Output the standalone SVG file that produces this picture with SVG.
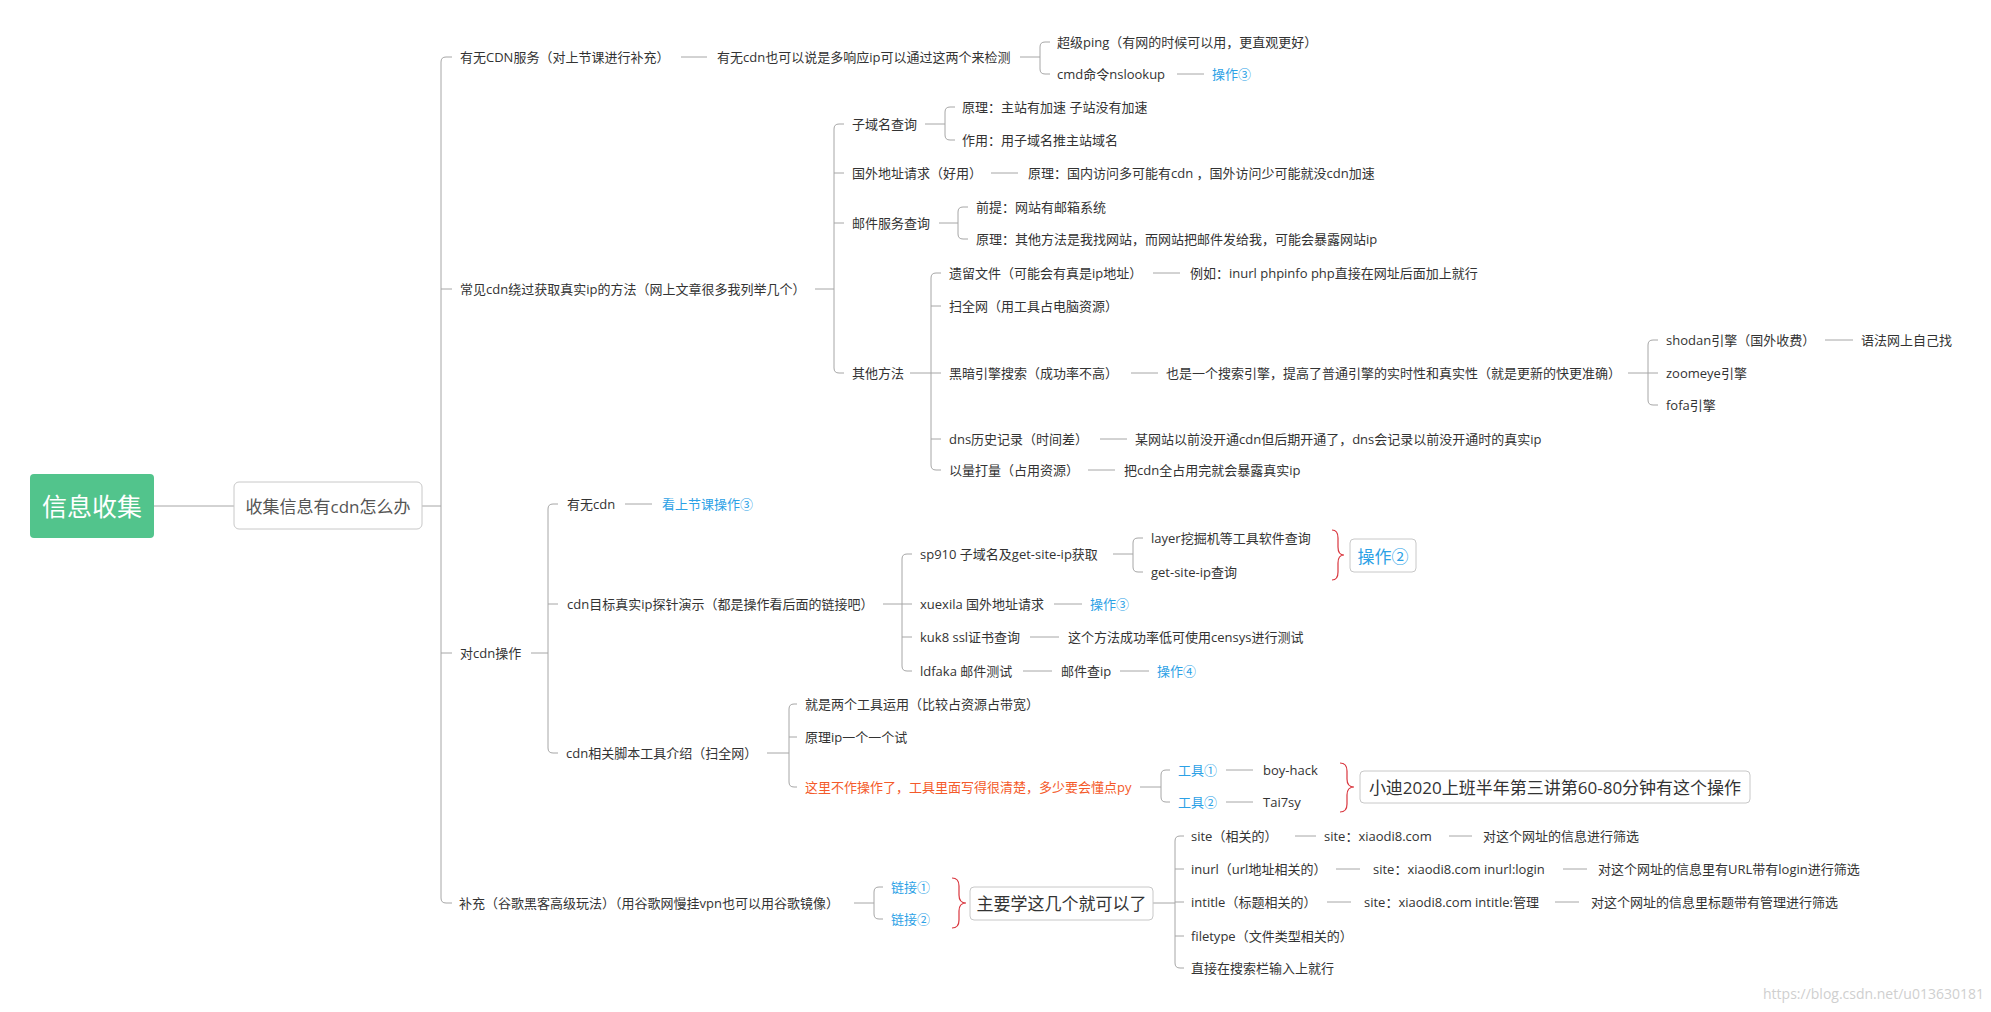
<svg xmlns="http://www.w3.org/2000/svg" width="1991" height="1012" viewBox="0 0 1991 1012">
<style>
text{font-family:"Open Sans","Noto Sans CJK SC",sans-serif;dominant-baseline:central}
.t{font-size:13px;fill:#333}
.b{font-size:13px;fill:#2ca1e6}
.o{font-size:13px;fill:#f45a2a}
.c{text-anchor:middle}
.ln{fill:none;stroke:#a6a6a6;stroke-width:1}
.br{fill:none;stroke:#d9363e;stroke-width:1.2}
.bx{fill:#fff;stroke:#c8c8c8;stroke-width:1}
</style>
<rect width="1991" height="1012" fill="#fff"/>
<g id="connectors">
<path class="ln" d="M154,506 H234"/>
<path class="ln" stroke-width="2" d="M422,506 H441"/>
<path class="ln" d="M452,57 H446 Q441,57 441,62 V898 Q441,903 446,903 H452 M441,289 H452 M441,653 H452"/>
<path class="ln" d="M681,57 H707 M1020,57 H1040 M1050,42 H1045 Q1040,42 1040,47 V69 Q1040,74 1045,74 H1050 M1177,74 H1204"/>
<path class="ln" d="M815,289 H834 M844,124 H839 Q834,124 834,129 V368 Q834,373 839,373 H844 M834,173 H844 M834,223 H844"/>
<path class="ln" d="M925,124 H945 M955,107 H950 Q945,107 945,112 V135 Q945,140 950,140 H955"/>
<path class="ln" d="M991,173 H1018"/>
<path class="ln" d="M939,223 H958 M968,207 H963 Q958,207 958,212 V234 Q958,239 963,239 H968"/>
<path class="ln" d="M910,373 H931 M941,273 H936 Q931,273 931,278 V465 Q931,470 936,470 H941 M931,306 H941 M931,373 H941 M931,439 H941"/>
<path class="ln" d="M1153,273 H1180 M1131,373 H1158 M1100,439 H1127 M1088,470 H1115"/>
<path class="ln" d="M1628,373 H1648 M1658,340 H1653 Q1648,340 1648,345 V400 Q1648,405 1653,405 H1658 M1648,373 H1658 M1825,340 H1853"/>
<path class="ln" d="M531,653 H548 M558,504 H553 Q548,504 548,509 V748 Q548,753 553,753 H558 M548,604 H558 M625,504 H652"/>
<path class="ln" d="M883,604 H902 M912,554 H907 Q902,554 902,559 V666 Q902,671 907,671 H912 M902,604 H912 M902,637 H912"/>
<path class="ln" d="M1113,554 H1133 M1143,538 H1138 Q1133,538 1133,543 V567 Q1133,572 1138,572 H1143"/>
<path class="ln" d="M1054,604 H1082 M1030,637 H1059 M1023,671 H1052 M1120,671 H1149"/>
<path class="ln" d="M767,753 H789 M797,704 H794 Q789,704 789,709 V782 Q789,787 794,787 H797 M789,737 H797"/>
<path class="ln" d="M1140,787 H1161 M1170,770 H1166 Q1161,770 1161,775 V797 Q1161,802 1166,802 H1170 M1226,770 H1253 M1226,802 H1253"/>
<path class="ln" d="M854,903 H874 M883,887 H879 Q874,887 874,892 V914 Q874,919 879,919 H883"/>
<path class="ln" d="M1153,903 H1175 M1184,836 H1180 Q1175,836 1175,841 V963 Q1175,968 1180,968 H1184 M1175,869 H1184 M1175,902 H1184 M1175,936 H1184"/>
<path class="ln" d="M1295,836 H1316 M1449,836 H1472 M1336,869 H1360 M1563,869 H1587 M1327,902 H1351 M1555,902 H1579"/>
<path class="br" d="M1332,530 Q1338,530 1338,538 L1338,547 Q1338,555 1344,555 Q1338,555 1338,563 L1338,572 Q1338,580 1332,580"/>
<path class="br" d="M1340,763 Q1347,763 1347,771 L1347,779 Q1347,787 1354,787 Q1347,787 1347,795 L1347,804 Q1347,812 1340,812"/>
<path class="br" d="M952,878 Q959,878 959,886 L959,895 Q959,903 966,903 Q959,903 959,911 L959,920 Q959,928 952,928"/>
</g>
<g id="root"><rect x="30" y="474" width="124" height="64" rx="4" fill="#52c48c"/><text class="c" x="92" y="506" font-size="25" fill="#fff">信息收集</text></g>
<g id="main"><rect class="bx" x="234" y="482" width="188" height="47" rx="5"/><text class="c" x="328" y="506" font-size="17" fill="#555">收集信息有cdn怎么办</text></g>

<g id="n-a"><text class="t" x="460" y="57">有无CDN服务（对上节课进行补充）</text></g>
<g id="n-a1"><text class="t" x="717" y="57">有无cdn也可以说是多响应ip可以通过这两个来检测</text></g>
<g id="n-a1a"><text class="t" x="1057" y="42">超级ping（有网的时候可以用，更直观更好）</text></g>
<g id="n-a1b"><text class="t" x="1057" y="74">cmd命令nslookup</text></g>
<g id="n-a1b1"><text class="b" x="1212" y="74">操作③</text></g>

<g id="n-b"><text class="t" x="460" y="289">常见cdn绕过获取真实ip的方法（网上文章很多我列举几个）</text></g>
<g id="n-b1"><text class="t" x="852" y="124">子域名查询</text></g>
<g id="n-b1a"><text class="t" x="962" y="107">原理：主站有加速 子站没有加速</text></g>
<g id="n-b1b"><text class="t" x="962" y="140">作用：用子域名推主站域名</text></g>
<g id="n-b2"><text class="t" x="852" y="173">国外地址请求（好用）</text></g>
<g id="n-b2a"><text class="t" x="1028" y="173">原理：国内访问多可能有cdn ，国外访问少可能就没cdn加速</text></g>
<g id="n-b3"><text class="t" x="852" y="223">邮件服务查询</text></g>
<g id="n-b3a"><text class="t" x="976" y="207">前提：网站有邮箱系统</text></g>
<g id="n-b3b"><text class="t" x="976" y="239">原理：其他方法是我找网站，而网站把邮件发给我，可能会暴露网站ip</text></g>
<g id="n-b4"><text class="t" x="852" y="373">其他方法</text></g>
<g id="n-b4a"><text class="t" x="949" y="273">遗留文件（可能会有真是ip地址）</text></g>
<g id="n-b4a1"><text class="t" x="1190" y="273">例如：inurl phpinfo php直接在网址后面加上就行</text></g>
<g id="n-b4b"><text class="t" x="949" y="306">扫全网（用工具占电脑资源）</text></g>
<g id="n-b4c"><text class="t" x="949" y="373">黑暗引擎搜索（成功率不高）</text></g>
<g id="n-b4c1"><text class="t" x="1166" y="373">也是一个搜索引擎，提高了普通引擎的实时性和真实性（就是更新的快更准确）</text></g>
<g id="n-shodan"><text class="t" x="1666" y="340">shodan引擎（国外收费）</text></g>
<g id="n-shodan1"><text class="t" x="1861" y="340">语法网上自己找</text></g>
<g id="n-zoomeye"><text class="t" x="1666" y="373">zoomeye引擎</text></g>
<g id="n-fofa"><text class="t" x="1666" y="405">fofa引擎</text></g>
<g id="n-b4d"><text class="t" x="949" y="439">dns历史记录（时间差）</text></g>
<g id="n-b4d1"><text class="t" x="1135" y="439">某网站以前没开通cdn但后期开通了，dns会记录以前没开通时的真实ip</text></g>
<g id="n-b4e"><text class="t" x="949" y="470">以量打量（占用资源）</text></g>
<g id="n-b4e1"><text class="t" x="1124" y="470">把cdn全占用完就会暴露真实ip</text></g>

<g id="n-c"><text class="t" x="460" y="653">对cdn操作</text></g>
<g id="n-c1"><text class="t" x="567" y="504">有无cdn</text></g>
<g id="n-c1a"><text class="b" x="662" y="504">看上节课操作③</text></g>
<g id="n-c2"><text class="t" x="567" y="604">cdn目标真实ip探针演示（都是操作看后面的链接吧）</text></g>
<g id="n-c2a"><text class="t" x="920" y="554">sp910 子域名及get-site-ip获取</text></g>
<g id="n-c2a1"><text class="t" x="1151" y="538">layer挖掘机等工具软件查询</text></g>
<g id="n-c2a2"><text class="t" x="1151" y="572">get-site-ip查询</text></g>
<g id="n-op2"><rect class="bx" x="1350" y="539" width="66" height="33" rx="4"/><text class="c" x="1383" y="556" font-size="17" fill="#2ca1e6">操作②</text></g>
<g id="n-c2b"><text class="t" x="920" y="604">xuexila 国外地址请求</text></g>
<g id="n-c2b1"><text class="b" x="1090" y="604">操作③</text></g>
<g id="n-c2c"><text class="t" x="920" y="637">kuk8 ssl证书查询</text></g>
<g id="n-c2c1"><text class="t" x="1068" y="637">这个方法成功率低可使用censys进行测试</text></g>
<g id="n-c2d"><text class="t" x="920" y="671">ldfaka 邮件测试</text></g>
<g id="n-c2d1"><text class="t" x="1061" y="671">邮件查ip</text></g>
<g id="n-c2d2"><text class="b" x="1157" y="671">操作④</text></g>
<g id="n-c3"><text class="t" x="566" y="753">cdn相关脚本工具介绍（扫全网）</text></g>
<g id="n-c3a"><text class="t" x="805" y="704">就是两个工具运用（比较占资源占带宽）</text></g>
<g id="n-c3b"><text class="t" x="805" y="737">原理ip一个一个试</text></g>
<g id="n-c3c"><text class="o" x="805" y="787">这里不作操作了，工具里面写得很清楚，多少要会懂点py</text></g>
<g id="n-tool1"><text class="b" x="1178" y="770">工具①</text></g>
<g id="n-tool1a"><text class="t" x="1263" y="770">boy-hack</text></g>
<g id="n-tool2"><text class="b" x="1178" y="802">工具②</text></g>
<g id="n-tool2a"><text class="t" x="1263" y="802">Tai7sy</text></g>
<g id="n-xiaodi"><rect class="bx" x="1360" y="771" width="390" height="32" rx="4"/><text class="c" x="1555" y="787" font-size="17" fill="#333">小迪2020上班半年第三讲第60-80分钟有这个操作</text></g>

<g id="n-d"><text class="t" x="459" y="903">补充（谷歌黑客高级玩法）（用谷歌网慢挂vpn也可以用谷歌镜像）</text></g>
<g id="n-d1"><text class="b" x="891" y="887">链接①</text></g>
<g id="n-d2"><text class="b" x="891" y="919">链接②</text></g>
<g id="n-main2"><rect class="bx" x="970" y="887" width="183" height="33" rx="4"/><text class="c" x="1061.5" y="903.5" font-size="17" fill="#333">主要学这几个就可以了</text></g>
<g id="n-site"><text class="t" x="1191" y="836">site（相关的）</text></g>
<g id="n-site1"><text class="t" x="1324" y="836">site：xiaodi8.com</text></g>
<g id="n-site2"><text class="t" x="1483" y="836">对这个网址的信息进行筛选</text></g>
<g id="n-inurl"><text class="t" x="1191" y="869">inurl（url地址相关的）</text></g>
<g id="n-inurl1"><text class="t" x="1373" y="869">site：xiaodi8.com inurl:login</text></g>
<g id="n-inurl2"><text class="t" x="1598" y="869">对这个网址的信息里有URL带有login进行筛选</text></g>
<g id="n-intitle"><text class="t" x="1191" y="902">intitle（标题相关的）</text></g>
<g id="n-intitle1"><text class="t" x="1364" y="902">site：xiaodi8.com intitle:管理</text></g>
<g id="n-intitle2"><text class="t" x="1591" y="902">对这个网址的信息里标题带有管理进行筛选</text></g>
<g id="n-filetype"><text class="t" x="1191" y="936">filetype（文件类型相关的）</text></g>
<g id="n-direct"><text class="t" x="1191" y="968">直接在搜索栏输入上就行</text></g>

<g id="watermark"><text x="1984" y="993" font-family="Liberation Sans" font-size="14" fill="#cfcfcf" text-anchor="end">https://blog.csdn.net/u013630181</text></g>
</svg>
